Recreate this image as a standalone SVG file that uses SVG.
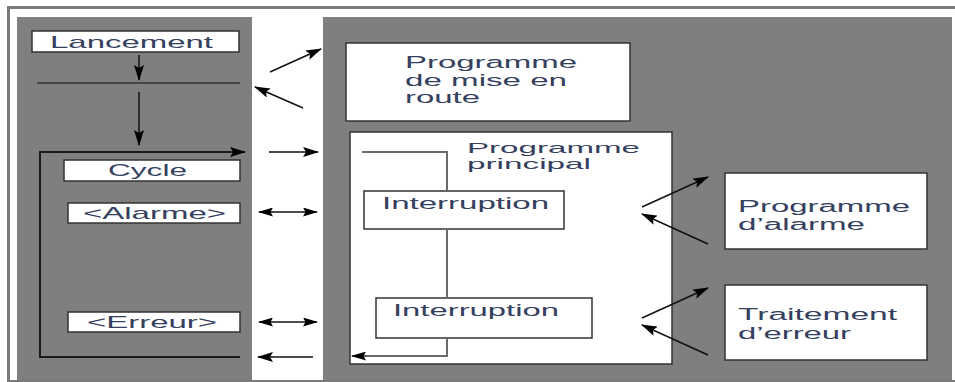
<svg xmlns="http://www.w3.org/2000/svg" width="955" height="382" viewBox="0 0 955 382">
<defs>
<marker id="ah" markerUnits="userSpaceOnUse" markerWidth="16" markerHeight="10" refX="15" refY="5" orient="auto-start-reverse" viewBox="0 0 16 10">
<path d="M0,0 L16,5 L0,10 L3,5 z" fill="#000"/>
</marker>
<marker id="ahs" markerUnits="userSpaceOnUse" markerWidth="15" markerHeight="9" refX="14" refY="4.5" orient="auto-start-reverse" viewBox="0 0 15 9">
<path d="M0,0 L15,4.5 L0,9 L2.5,4.5 z" fill="#000"/>
</marker>
</defs>
<style>
.panel{fill:#7f7f7f;}
.box{fill:#fff;stroke:#333;stroke-width:1.5;}
.t{font-family:"Liberation Sans",Arial,sans-serif;fill:#34405e;}
.l{font-size:17px;}
.r{font-size:16px;}
.arr{stroke:#111;stroke-width:1.5;fill:none;marker-end:url(#ah);}
.dbl{stroke:#111;stroke-width:1.5;fill:none;marker-start:url(#ahs);marker-end:url(#ahs);}
.loop{stroke:#1a1a1a;stroke-width:2;fill:none;}
.inner{stroke:#6a6a6a;stroke-width:2;fill:none;}
</style>
<rect x="0" y="0" width="955" height="382" fill="#fff"/>
<rect x="8.5" y="7.5" width="960" height="374" fill="none" stroke="#7a7a7a" stroke-width="3"/>
<rect class="panel" x="17" y="17" width="235" height="363"/>
<rect class="panel" x="323" y="17" width="629" height="363"/>

<g id="lancement">
<rect class="box" x="32" y="31" width="207" height="21"/>
<text class="t l" x="50" y="48" textLength="163" lengthAdjust="spacingAndGlyphs">Lancement</text>
</g>
<g id="cycle">
<rect class="box" x="64" y="160" width="176" height="21"/>
<text class="t l" x="108" y="176" textLength="79" lengthAdjust="spacingAndGlyphs">Cycle</text>
</g>
<g id="alarme">
<rect class="box" x="68" y="203" width="172" height="20"/>
<text class="t l" x="83" y="219" textLength="143" lengthAdjust="spacingAndGlyphs">&lt;Alarme&gt;</text>
</g>
<g id="erreur">
<rect class="box" x="68" y="312" width="172" height="20"/>
<text class="t l" x="87" y="328" textLength="130" lengthAdjust="spacingAndGlyphs">&lt;Erreur&gt;</text>
</g>

<g id="mise-en-route">
<rect class="box" x="346" y="43" width="284" height="78"/>
<text class="t r" x="405" y="68" textLength="172" lengthAdjust="spacingAndGlyphs">Programme</text>
<text class="t r" x="405" y="86" textLength="162" lengthAdjust="spacingAndGlyphs">de mise en</text>
<text class="t r" x="405" y="103" textLength="75" lengthAdjust="spacingAndGlyphs">route</text>
</g>
<g id="programme-principal">
<rect class="box" x="350" y="132" width="322" height="232" stroke-width="2"/>
<text class="t" font-size="15" x="467" y="153" textLength="173" lengthAdjust="spacingAndGlyphs">Programme</text>
<text class="t" font-size="15" x="467" y="169" textLength="124" lengthAdjust="spacingAndGlyphs">principal</text>
</g>
<g id="interruption-1">
<rect class="box" x="364" y="191" width="200" height="38"/>
<text class="t r" x="382" y="209" textLength="167" lengthAdjust="spacingAndGlyphs">Interruption</text>
</g>
<g id="interruption-2">
<rect class="box" x="376" y="298" width="216" height="40"/>
<text class="t r" x="393" y="316" textLength="166" lengthAdjust="spacingAndGlyphs">Interruption</text>
</g>
<g id="programme-alarme">
<rect class="box" x="725" y="173" width="202" height="76"/>
<text class="t r" x="738" y="212" textLength="172" lengthAdjust="spacingAndGlyphs">Programme</text>
<text class="t r" x="738" y="230" textLength="127" lengthAdjust="spacingAndGlyphs">d’alarme</text>
</g>
<g id="traitement-erreur">
<rect class="box" x="725" y="285" width="202" height="75"/>
<text class="t r" x="738" y="320" textLength="159" lengthAdjust="spacingAndGlyphs">Traitement</text>
<text class="t r" x="738" y="339" textLength="113" lengthAdjust="spacingAndGlyphs">d’erreur</text>
</g>

<g id="connectors">
<line x1="37" y1="83" x2="240" y2="83" stroke="#333" stroke-width="1.5"/>
<line class="arr" x1="139" y1="55" x2="139" y2="80"/>
<line class="arr" x1="139" y1="92" x2="139" y2="145"/>
<polyline class="loop" points="240,357 40,357 40,152 231,152"/>
<line x1="231" y1="152" x2="245" y2="152" stroke="#111" stroke-width="1.5" marker-end="url(#ah)"/>
<line class="arr" x1="270" y1="72" x2="321" y2="49"/>
<line class="arr" x1="303" y1="108" x2="255" y2="87"/>
<line class="arr" x1="269" y1="152" x2="318" y2="152"/>
<line class="dbl" x1="259" y1="212" x2="317" y2="212"/>
<line class="dbl" x1="259" y1="322" x2="317" y2="322"/>
<line class="arr" x1="313" y1="357" x2="258" y2="357"/>
<polyline class="inner" points="362,152 447,152 447,191"/>
<line class="inner" x1="447" y1="229" x2="447" y2="298"/>
<polyline class="inner" points="447,338 447,356 365,356"/>
<line x1="366" y1="356" x2="352" y2="356" stroke="#333" stroke-width="1.5" marker-end="url(#ahs)"/>
<line class="arr" x1="642" y1="207" x2="708" y2="177"/>
<line class="arr" x1="708" y1="244" x2="642" y2="214"/>
<line class="arr" x1="642" y1="318" x2="708" y2="288"/>
<line class="arr" x1="708" y1="355" x2="642" y2="325"/>
</g>
</svg>
